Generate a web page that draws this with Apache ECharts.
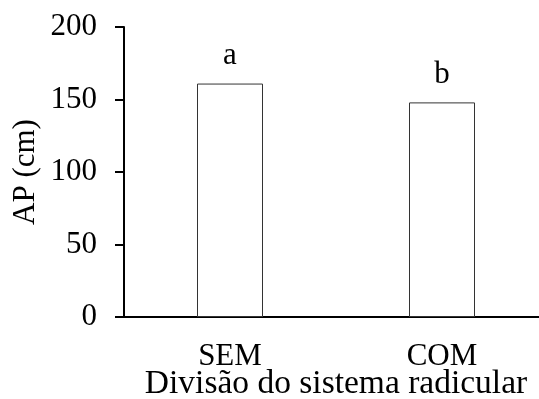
<!DOCTYPE html>
<html>
<head>
<meta charset="utf-8">
<script src="https://cdn.jsdelivr.net/npm/echarts@6/dist/echarts.min.js"></script>
<style>
  html, body { margin: 0; padding: 0; background: #fff; }
  #chart { width: 539px; height: 399px; }
</style>
</head>
<body>
<div id="chart"></div>
<script>
  // categories and mean heights (cm)
  var categories = ['SEM', 'COM']
  var heights = [161, 148]
  var letters = ['a', 'b']
  var yTicks = { min: 0, max: 200, interval: 50 }

  var font = '"Liberation Serif", "Times New Roman", serif'
  var chart = echarts.init(document.getElementById('chart'))

  chart.setOption({
    animation: false,
    grid: {
      left: 124,
      top: 27,
      width: 424,
      height: 290,
      containLabel: false,
      outerBoundsMode: 'none'
    },
    xAxis: {
      type: 'category',
      data: categories,
      name: 'Divisão do sistema radicular',
      nameLocation: 'middle',
      nameGap: 50,
      nameMoveOverlap: false,
      nameTextStyle: { fontFamily: font, fontSize: 33.5, color: '#000' },
      axisLine: { lineStyle: { color: '#000', width: 2 } },
      axisTick: { alignWithLabel: true, length: 7, lineStyle: { color: '#000', width: 2 } },
      axisLabel: { fontFamily: font, fontSize: 31, color: '#000', margin: 24 }
    },
    yAxis: {
      type: 'value',
      min: yTicks.min,
      max: yTicks.max,
      interval: yTicks.interval,
      name: 'AP (cm)',
      nameLocation: 'middle',
      nameGap: 83,
      nameMoveOverlap: false,
      nameTextStyle: { fontFamily: font, fontSize: 31, color: '#000' },
      splitLine: { show: false },
      axisLine: { show: true, lineStyle: { color: '#000', width: 2 } },
      axisTick: { show: true, length: 9, lineStyle: { color: '#000', width: 2 } },
      axisLabel: { fontFamily: font, fontSize: 31, color: '#000', margin: 27 }
    },
    series: [{
      type: 'bar',
      barWidth: 66,
      data: heights.map(function (v, i) {
        return {
          value: v,
          label: { formatter: letters[i] }
        }
      }),
      itemStyle: { color: '#fff', borderColor: '#333', borderWidth: 1 },
      label: {
        show: true,
        position: 'top',
        distance: 12,
        fontFamily: font,
        fontSize: 31,
        color: '#000'
      }
    }]
  })
</script>
</body>
</html>
